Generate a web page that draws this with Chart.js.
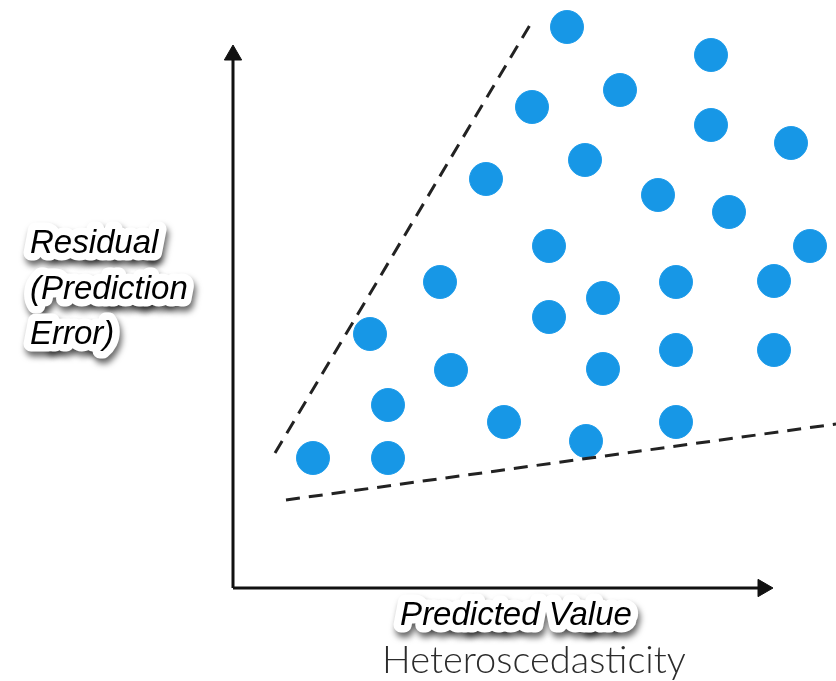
<!DOCTYPE html>
<html>
<head>
<meta charset="utf-8">
<script src="https://cdn.jsdelivr.net/npm/chart.js@4/dist/chart.umd.min.js"></script>
<style>
  html, body { margin: 0; padding: 0; background: #ffffff; }
  #wrap { width: 836px; height: 681px; }
</style>
</head>
<body>
<div id="wrap"><canvas id="c" width="836" height="681"></canvas></div>
<script>
// ---- Data (units: predicted value on x, residual on y; origin at the axes corner) ----
const pointX = [33.4, 47.8, 29.9, 38.7, 47.8, 55.8, 35.2, 25.3, 42.5, 49.6, 31.6, 57.7, 20.7, 44.3,
                54.1, 37.0, 31.6, 13.7, 44.3, 54.1, 21.8, 37.0, 15.5, 27.1, 44.3, 8.0, 15.5, 35.3];
const pointY = [56.1, 53.3, 48.1, 49.8, 46.3, 44.5, 42.8, 40.9, 39.3, 37.6, 34.2, 34.2, 30.6, 30.6,
                30.7, 29.0, 27.1, 25.4, 23.8, 23.8, 21.8, 21.9, 18.3, 16.6, 16.6, 13.0, 13.0, 14.7];

const upperBoundX = [4.2, 29.7];
const upperBoundY = [13.5, 56.3];
const lowerBoundX = [5.3, 60.3];
const lowerBoundY = [8.8, 16.4];

const yAxisX = [0, 0];
const yAxisY = [0, 53.3];
const xAxisX = [0, 53.0];
const xAxisY = [0, 0];

const yLabelLines = ["Residual", "(Prediction", "Error)"];
const xLabel = "Predicted Value";
const captionText = "Heteroscedasticity";

const toXY = (xs, ys) => xs.map((x, i) => ({ x: x, y: ys[i] }));

// ---- Labels plugin (text with white halo and drop shadow) ----
function haloText(ctx, text, x, y) {
  ctx.save();
  ctx.lineJoin = 'round';
  ctx.shadowColor = 'rgba(0,0,0,0.6)';
  ctx.shadowBlur = 6;
  ctx.shadowOffsetX = 2;
  ctx.shadowOffsetY = 5;
  ctx.strokeStyle = '#ffffff';
  ctx.lineWidth = 15;
  ctx.strokeText(text, x, y);
  ctx.restore();
  ctx.save();
  ctx.lineJoin = 'round';
  ctx.strokeStyle = '#ffffff';
  ctx.lineWidth = 13;
  ctx.strokeText(text, x, y);
  ctx.fillStyle = '#000000';
  ctx.fillText(text, x, y);
  ctx.restore();
}

const labelPlugin = {
  id: 'labels',
  afterDatasetsDraw(chart) {
    const ctx = chart.ctx;
    ctx.save();
    ctx.font = 'italic 33px "Liberation Sans", Arial, sans-serif';
    ctx.textAlign = 'left';
    ctx.textBaseline = 'alphabetic';
    const baselines = [253, 299, 344];
    yLabelLines.forEach((t, i) => haloText(ctx, t, 30, baselines[i]));
    ctx.textAlign = 'center';
    haloText(ctx, xLabel, 516, 625);
    ctx.font = '300 38px Lato, "Open Sans", sans-serif';
    ctx.fillStyle = '#2c2c2c';
    ctx.fillText(captionText, 534, 673);
    ctx.restore();
  }
};

new Chart(document.getElementById('c'), {
  type: 'scatter',
  data: {
    datasets: [
      {
        label: 'upper bound',
        type: 'line',
        data: toXY(upperBoundX, upperBoundY),
        borderColor: '#222222',
        borderWidth: 3,
        borderDash: [14, 9],
        pointRadius: 0,
        fill: false
      },
      {
        label: 'lower bound',
        type: 'line',
        data: toXY(lowerBoundX, lowerBoundY),
        borderColor: '#222222',
        borderWidth: 3,
        borderDash: [14, 9],
        pointRadius: 0,
        fill: false
      },
      {
        label: 'y axis',
        type: 'line',
        data: toXY(yAxisX, yAxisY),
        borderColor: '#111111',
        borderWidth: 3,
        pointStyle: 'triangle',
        pointRadius: [0, 10],
        pointRotation: 0,
        pointBackgroundColor: '#111111',
        pointBorderColor: '#111111',
        pointBorderWidth: 1,
        fill: false
      },
      {
        label: 'x axis',
        type: 'line',
        data: toXY(xAxisX, xAxisY),
        borderColor: '#111111',
        borderWidth: 3,
        pointStyle: 'triangle',
        pointRadius: [0, 10],
        pointRotation: 90,
        pointBackgroundColor: '#111111',
        pointBorderColor: '#111111',
        pointBorderWidth: 1,
        fill: false
      },
      {
        label: 'residuals',
        data: toXY(pointX, pointY),
        backgroundColor: '#1797e6',
        borderColor: '#1f9cea',
        borderWidth: 1,
        pointRadius: 16.5,
        pointHoverRadius: 16.5
      }
    ]
  },
  options: {
    responsive: false,
    animation: false,
    events: [],
    layout: { padding: 0, autoPadding: false },
    clip: false,
    plugins: { legend: { display: false }, tooltip: { enabled: false }, title: { display: false } },
    scales: {
      x: { type: 'linear', display: false, min: -23.3, max: 60.3 },
      y: { type: 'linear', display: false, min: -9.3, max: 58.8 }
    }
  },
  plugins: [labelPlugin]
});
</script>
</body>
</html>
